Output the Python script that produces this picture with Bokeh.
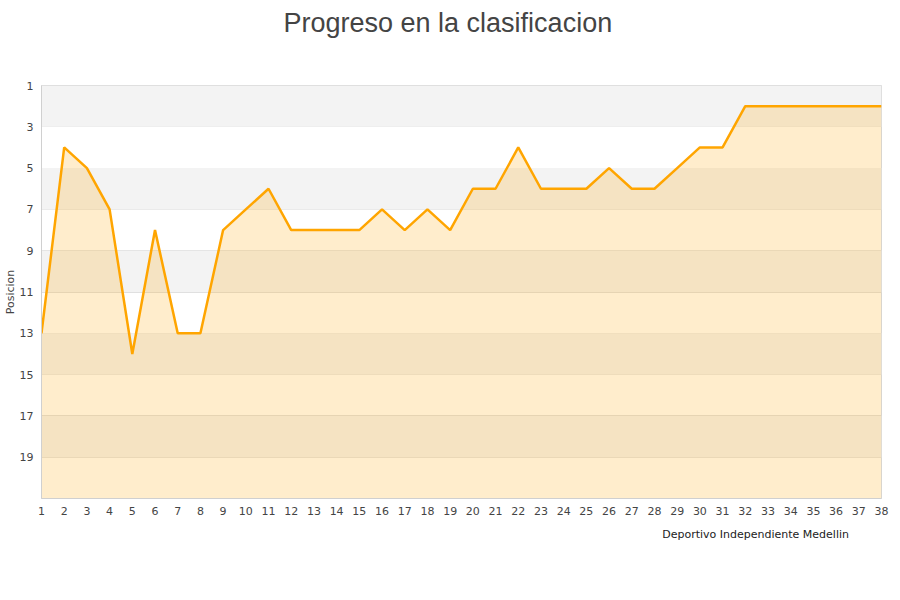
from bokeh.plotting import figure
from bokeh.layouts import column
from bokeh.models import Range1d, FixedTicker, Legend, LegendItem, ColumnDataSource, BoxAnnotation, Title
from bokeh.embed import file_html
from bokeh.resources import INLINE

jornadas = list(range(1, 39))
posicion = [13, 4, 5, 7, 14, 8, 13, 13, 8, 7, 6, 8, 8, 8, 8, 7, 8, 7, 8, 6,
            6, 4, 6, 6, 6, 5, 6, 6, 5, 4, 4, 2, 2, 2, 2, 2, 2, 2]
equipo = "Deportivo Independiente Medellin"
titulo = "Progreso en la clasificacion"
y_ticks = [1, 3, 5, 7, 9, 11, 13, 15, 17, 19]
y_bottom = 21

src = ColumnDataSource(dict(x=jornadas, y=posicion, base=[y_bottom] * len(jornadas)))

p = figure(frame_width=840, frame_height=413,
           output_backend="svg", toolbar_location=None,
           x_range=Range1d(1, 38), y_range=Range1d(y_bottom, 1),
           min_border_left=32, min_border_right=12, min_border_top=10, min_border_bottom=30,
           title=None)

p.add_layout(Title(text=" ", text_font_size="28px"), "above")
p.add_layout(Title(text=titulo, align="left", offset=242, text_font="Liberation Sans",
                   text_font_size="27px", text_font_style="normal", text_color="#444444"), "above")

# alternating gray bands
for lo in y_ticks[0::2]:
    p.add_layout(BoxAnnotation(top=lo, bottom=lo + 2, fill_color="#f3f3f3", fill_alpha=1.0,
                               line_color=None, level="underlay"))

p.varea(x="x", y1="y", y2="base", source=src, fill_color="#ffa500", fill_alpha=0.2)
p.line(x="x", y="y", source=src, line_color="#ffa500", line_width=2.5)

p.xaxis.ticker = FixedTicker(ticks=jornadas)
p.yaxis.ticker = FixedTicker(ticks=y_ticks)
p.yaxis.axis_label = "Posicion"
for ax in (p.xaxis, p.yaxis):
    ax.major_label_text_font = "DejaVu Sans"
    ax.major_label_text_font_size = "11px"
    ax.major_label_text_color = "#444444"
    ax.axis_line_color = "#d0d0d0"
    ax.major_tick_line_color = None
    ax.minor_tick_line_color = None
    ax.major_tick_out = 0
    ax.major_tick_in = 0
p.yaxis.major_label_standoff = 8
p.xaxis.major_label_standoff = 8
p.yaxis.axis_label_text_font = "DejaVu Sans"
p.yaxis.axis_label_text_font_size = "11px"
p.yaxis.axis_label_text_font_style = "normal"
p.yaxis.axis_label_text_color = "#444444"
p.yaxis.axis_label_standoff = 0

p.xgrid.grid_line_color = None
p.ygrid.grid_line_color = "#e0e0e0"
p.outline_line_color = "#d8d8d8"

# legend strip below the chart
leg = figure(width=861, height=40, output_backend="svg", toolbar_location=None,
             x_range=Range1d(0, 1), y_range=Range1d(0, 1),
             x_axis_location=None, y_axis_location=None, min_border=0)
leg.grid.visible = False
leg.outline_line_color = None
swatch = leg.varea(x=[], y1=[], y2=[], fill_color="#ffa500", fill_alpha=0.25)
legend = Legend(items=[LegendItem(label=equipo, renderers=[swatch])],
                location="top_right", orientation="horizontal", margin=0, padding=4,
                label_standoff=9, label_text_font="DejaVu Sans", label_text_font_size="11px",
                label_text_color="#222222", glyph_width=9, glyph_height=9,
                background_fill_alpha=0, border_line_color=None)
leg.add_layout(legend, "center")

open("out.html", "w").write(file_html(column(p, leg), INLINE))
